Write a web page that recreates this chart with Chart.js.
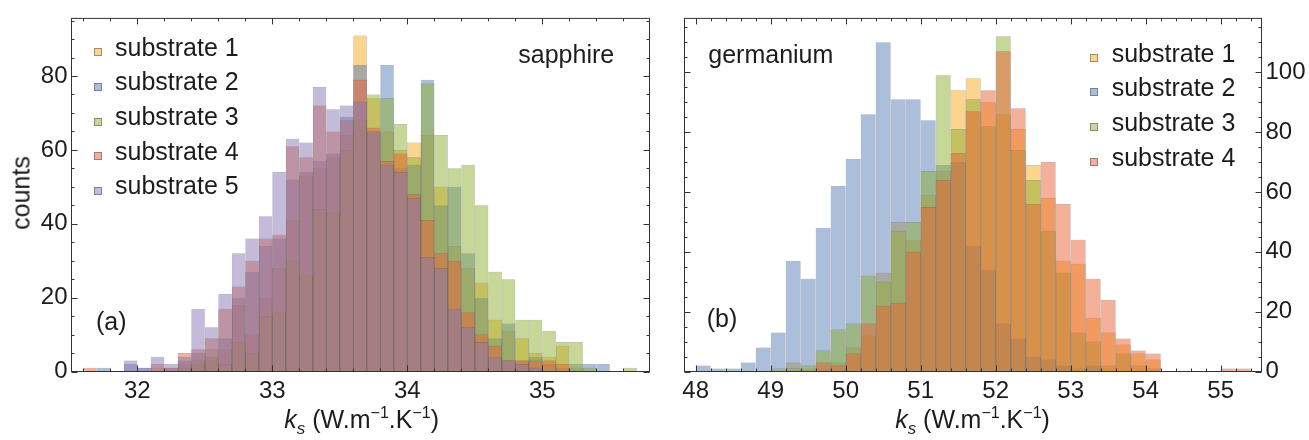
<!DOCTYPE html>
<html>
<head>
<meta charset="utf-8">
<script src="https://cdn.jsdelivr.net/npm/chart.js@4.4.0/dist/chart.umd.min.js"></script>
<style>
  html, body { margin: 0; padding: 0; background: #fff; }
  body { width: 1309px; height: 440px; overflow: hidden; position: relative;
         font-family: "Liberation Sans", Arial, sans-serif; color: #1c1c1c; }
  canvas { position: absolute; top: 0; }
  #c1 { left: 0; }
  #c2 { left: 665px; }
  .t { position: absolute; font-size: 25px; line-height: 25px; white-space: nowrap; }
  .sw { position: absolute; width: 6px; height: 6px; border: 0.8px solid rgba(60,60,60,0.45); }
  .sub { font-size: 17px; position: relative; top: 6px; font-style: italic; }
  .sup { font-size: 16px; position: relative; top: -10px; }
</style>
</head>
<body>
<canvas id="c1" width="665" height="440"></canvas>
<canvas id="c2" width="644" height="440"></canvas>
<div id="overlay"></div>
<script>
// ---------------- DATA ----------------
// (a) sapphire: bin left edges (width 0.1) and counts per substrate
const sapphireBins = [31.6,31.7,31.8,31.9,32.0,32.1,32.2,32.3,32.4,32.5,32.6,32.7,32.8,32.9,33.0,33.1,33.2,33.3,33.4,33.5,33.6,33.7,33.8,33.9,34.0,34.1,34.2,34.3,34.4,34.5,34.6,34.7,34.8,34.9,35.0,35.1,35.2,35.3,35.4,35.5,35.6];
const sapphireS1 = [0,0,0,0,0,1,0,2,2,3,6,18,10,20,28,41,53,55,58,64,91,74,65,60,62,64,50,34,28,24,14,11,9,5,4,7,1,0,0,0,0];
const sapphireS2 = [0,1,0,2,1,0,1,3,5,4,9,20,27,34,36,52,54,57,59,69,83,65,83,55,56,79,45,50,32,20,9,13,3,4,2,1,2,2,2,0,0];
const sapphireS3 = [0,0,0,0,0,0,0,1,3,6,2,8,5,15,16,30,26,44,43,60,68,75,74,67,58,78,64,55,56,45,27,25,14,14,11,8,8,1,0,0,1];
const sapphireS4 = [1,0,0,0,0,2,1,5,6,9,17,23,30,36,37,61,58,72,65,68,79,66,57,59,48,41,32,30,16,10,7,3,3,3,3,2,0,0,0,0,0];
const sapphireS5 = [0,0,0,3,1,4,2,4,17,12,21,32,36,42,54,63,62,77,71,72,73,65,56,54,47,31,28,17,12,8,4,3,2,1,0,0,0,0,0,0,0];
const sapphireBinWidth = 0.1;

// (b) germanium: bin left edges (width 0.2) and counts per substrate
const germaniumBins = [48.0,48.2,48.4,48.6,48.8,49.0,49.2,49.4,49.6,49.8,50.0,50.2,50.4,50.6,50.8,51.0,51.2,51.4,51.6,51.8,52.0,52.2,52.4,52.6,52.8,53.0,53.2,53.4,53.6,53.8,54.0,54.2,54.4,54.6,54.8,55.0,55.2];
const germaniumS1 = [0,0,0,0,0,0,3,1,1,3,8,12,33,50,44,59,67,94,98,90,86,81,69,58,37,36,18,13,9,6,4,0,0,0,0,0,0];
const germaniumS2 = [2,1,1,3,8,13,37,31,48,62,71,86,110,91,91,84,69,70,42,34,16,11,5,4,2,1,2,0,0,0,0,0,0,0,0,0,0];
const germaniumS3 = [0,0,0,0,0,1,1,2,7,14,16,32,30,47,50,67,99,81,91,82,112,74,64,47,33,13,10,2,6,2,1,0,0,0,0,0,0];
const germaniumS4 = [0,0,0,0,0,0,0,0,3,2,6,16,22,23,40,55,64,73,87,94,107,88,56,70,56,44,31,24,11,7,6,0,0,0,0,1,1];
const germaniumBinWidth = 0.2;

const seriesNames = ["substrate 1","substrate 2","substrate 3","substrate 4","substrate 5"];
const xTickValuesA = [32,33,34,35];
const xTickValuesB = [48,49,50,51,52,53,54,55];
const yTickValues = [0,20,40,60,80,100];

// ---------------- STYLE ----------------
const seriesColors = [
  'rgba(247,169,30,0.5)',
  'rgba(88,126,182,0.5)',
  'rgba(143,176,50,0.5)',
  'rgba(235,98,53,0.5)',
  'rgba(135,120,179,0.5)'
];
const edgeColor = 'rgba(60,60,60,0.5)';
const FONT = '"Liberation Sans", Arial, sans-serif';

const framePlugin = {
  id: 'frame',
  afterDatasetsDraw(chart, args, o) {
    const { ctx, chartArea: a } = chart;
    const xs = chart.scales.x, ys = chart.scales.y;
    ctx.save();
    ctx.strokeStyle = '#333';
    ctx.lineWidth = 1;
    ctx.beginPath();
    const kx0 = Math.ceil(xs.min / o.xMinor - 1e-9), kx1 = Math.floor(xs.max / o.xMinor + 1e-9);
    for (let k = kx0; k <= kx1; k++) {
      const v = k * o.xMinor;
      const major = Math.abs(v - Math.round(v / o.xMajor) * o.xMajor) < 1e-6;
      const len = major ? 6 : 3;
      const px = Math.round(xs.getPixelForValue(v)) + 0.5;
      ctx.moveTo(px, a.bottom); ctx.lineTo(px, a.bottom - len);
      ctx.moveTo(px, a.top); ctx.lineTo(px, a.top + len);
    }
    const ky0 = Math.ceil(ys.min / o.yMinor - 1e-9), ky1 = Math.floor(ys.max / o.yMinor + 1e-9);
    for (let k = ky0; k <= ky1; k++) {
      const v = k * o.yMinor;
      const major = Math.abs(v - Math.round(v / o.yMajor) * o.yMajor) < 1e-6;
      const len = major ? 6 : 3;
      const py = Math.round(ys.getPixelForValue(v)) + 0.5;
      ctx.moveTo(a.left, py); ctx.lineTo(a.left + len, py);
      ctx.moveTo(a.right, py); ctx.lineTo(a.right - len, py);
    }
    ctx.stroke();
    ctx.strokeRect(a.left, a.top, a.right - a.left, a.bottom - a.top);
    ctx.restore();
  }
};

function makeDatasets(bins, width, series) {
  return series.map((vals, i) => ({
    label: seriesNames[i],
    data: bins.map((b, j) => ({ x: b + width / 2, y: vals[j] > 0 ? vals[j] : null })),
    backgroundColor: seriesColors[i],
    borderColor: edgeColor,
    borderWidth: 0.5,
    borderSkipped: false,
    inflateAmount: 0,
    grouped: false,
    barPercentage: 1,
    categoryPercentage: 1,
    order: -i
  }));
}

function makeChart(id, datasets, cfg) {
  return new Chart(document.getElementById(id), {
    type: 'bar',
    data: { datasets },
    options: {
      responsive: false,
      animation: false,
      devicePixelRatio: 1,
      events: [],
      layout: { padding: cfg.padding },
      plugins: {
        legend: { display: false },
        tooltip: { enabled: false },
        frame: cfg.frame
      },
      scales: {
        x: {
          type: 'linear', min: cfg.xMin, max: cfg.xMax, offset: false,
          grid: { display: false, drawTicks: false, tickLength: 0 },
          border: { display: false },
          afterBuildTicks: s => { s.ticks = cfg.xTicks.map(v => ({ value: v })); },
          ticks: { padding: 5, color: '#1c1c1c', font: { family: FONT, size: 24 },
                   callback: v => String(v), maxRotation: 0, autoSkip: false },
          afterFit: s => { s.height = 68.5; }
        },
        y: {
          type: 'linear', position: cfg.yPos, min: 0, max: cfg.yMax, offset: false,
          grid: { display: false, drawTicks: false, tickLength: 0 },
          border: { display: false },
          afterBuildTicks: s => { s.ticks = yTickValues.filter(v => v <= cfg.yMax).map(v => ({ value: v })); },
          ticks: { padding: 4, color: '#1c1c1c', font: { family: FONT, size: 24 },
                   callback: v => String(v) },
          afterFit: s => { s.width = cfg.yWidth; }
        }
      }
    },
    plugins: [framePlugin]
  });
}

makeChart('c1',
  makeDatasets(sapphireBins, sapphireBinWidth, [sapphireS1, sapphireS2, sapphireS3, sapphireS4, sapphireS5]),
  { padding: { top: 14.5, right: 15.5, left: 0, bottom: 0 }, xMin: 31.5124, xMax: 35.794, yMax: 95.6,
    yPos: 'left', yWidth: 71.5, xTicks: xTickValuesA,
    frame: { xMinor: 0.2, xMajor: 1, yMinor: 5, yMajor: 20 } });

makeChart('c2',
  makeDatasets(germaniumBins, germaniumBinWidth, [germaniumS1, germaniumS2, germaniumS3, germaniumS4]),
  { padding: { top: 14.5, right: 0, left: 19.5, bottom: 0 }, xMin: 47.851, xMax: 55.544, yMax: 118,
    yPos: 'right', yWidth: 47.5, xTicks: xTickValuesB,
    frame: { xMinor: 0.2, xMajor: 1, yMinor: 5, yMajor: 20 } });

// ---------------- TEXT OVERLAYS ----------------
const ov = document.getElementById('overlay');
function addText(html, left, baseline, extra) {
  const d = document.createElement('div');
  d.className = 't';
  d.innerHTML = html;
  d.style.left = left + 'px';
  d.style.top = (baseline - 21.16) + 'px';
  if (extra) Object.assign(d.style, extra);
  ov.appendChild(d);
  return d;
}
function addLegend(n, swLeft, swTop0, txtLeft, base0, step) {
  for (let i = 0; i < n; i++) {
    const s = document.createElement('div');
    s.className = 'sw';
    s.style.left = swLeft + 'px';
    s.style.top = (swTop0 + i * step) + 'px';
    s.style.background = seriesColors[i];
    ov.appendChild(s);
    addText(seriesNames[i], txtLeft, base0 + i * step);
  }
}
addLegend(5, 94, 48.3, 115, 56, 34.6);
addLegend(4, 1090, 53.5, 1111.7, 61.7, 34.8);

addText('sapphire', 518.3, 62.8);
addText('germanium', 708.3, 62.8);
addText('(a)', 96, 330);
addText('(b)', 706.7, 327);

const axisTitle = '<i>k</i><span class="sub">s</span> (W.m<span class="sup">\u22121</span>.K<span class="sup">\u22121</span>)';
addText(axisTitle, 361.7, 428, { transform: 'translateX(-50%)' });
addText(axisTitle, 972.5, 428, { transform: 'translateX(-50%)' });

addText('counts', 20.7, 0, { transform: 'translate(-50%,-50%) rotate(-90deg)', top: '193px' });
</script>
</body>
</html>
